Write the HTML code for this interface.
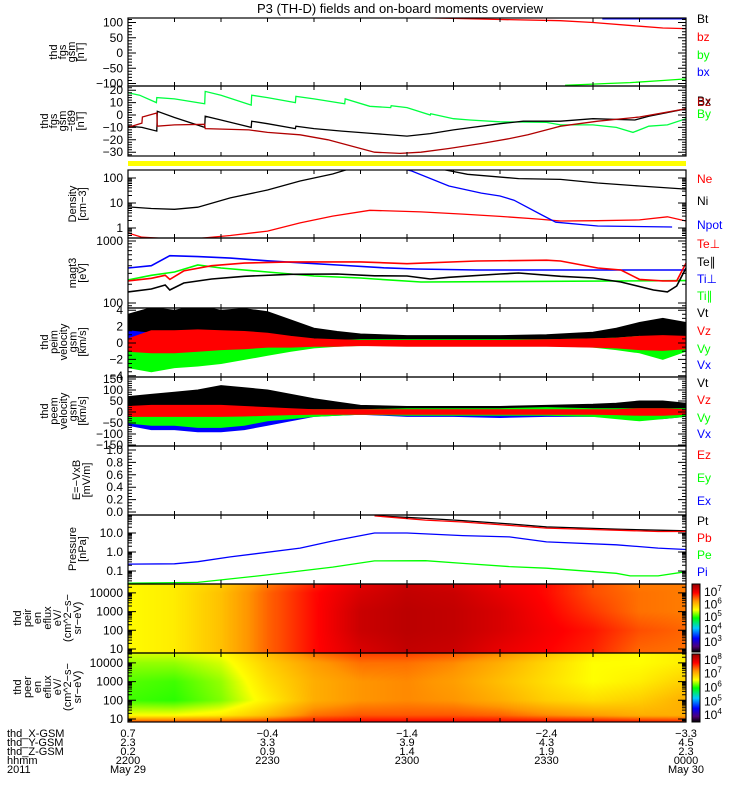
<!DOCTYPE html>
<html><head><meta charset="utf-8">
<style>
html,body{margin:0;padding:0;background:#fff;}
#wrap{position:relative;width:750px;height:800px;overflow:hidden;font-family:"Liberation Sans",sans-serif;}
canvas{position:absolute;}
svg{position:absolute;left:0;top:0;}
text{font-family:"Liberation Sans",sans-serif;}
</style></head>
<body>
<div id="wrap">
<canvas id="ionSpec" width="558" height="69" style="left:128px;top:584px"></canvas>
<canvas id="eleSpec" width="558" height="69" style="left:128px;top:653px"></canvas>
<svg id="chart" width="750" height="800">
<defs>
<clipPath id="c1"><rect x="128" y="18" width="558" height="68"/></clipPath>
<clipPath id="c2"><rect x="128" y="86" width="558" height="70"/></clipPath>
<clipPath id="c3"><rect x="128" y="170" width="558" height="68"/></clipPath>
<clipPath id="c4"><rect x="128" y="238" width="558" height="70"/></clipPath>
<clipPath id="c5"><rect x="128" y="308" width="558" height="69"/></clipPath>
<clipPath id="c6"><rect x="128" y="377" width="558" height="69"/></clipPath>
<clipPath id="c8"><rect x="128" y="515" width="558" height="69"/></clipPath>
<linearGradient id="cbar" x1="0" y1="1" x2="0" y2="0">
<stop offset="0" stop-color="#000"/><stop offset="0.08" stop-color="#500078"/><stop offset="0.2" stop-color="#0000ff"/><stop offset="0.35" stop-color="#00c8ff"/><stop offset="0.5" stop-color="#00ff00"/><stop offset="0.62" stop-color="#ffff00"/><stop offset="0.75" stop-color="#ff9600"/><stop offset="0.87" stop-color="#ff0000"/><stop offset="1" stop-color="#960000"/>
</linearGradient>
</defs>
<text x="400" y="13" text-anchor="middle" font-size="13">P3 (TH-D) fields and on-board moments overview</text>
<rect x="128" y="161" width="558" height="5" fill="#ffff00"/>
</svg>
</div>
<script>
// ---------- DATA (t = minutes after 22:00 UT) ----------
const p1bzT=[65,80,93,100,110,115,120];
const p1bzV=[115,110,106,100,88,82,80];
const p1byT=[94,100,103,108,115,120];
const p1byV=[-106,-102,-100,-97,-90,-85];
const p1bxT=[102,120];
const p1bxV=[112,112];
const p2byT=[0,2.5,6.1,6.2,10,16.5,16.6,20,26.5,26.6,30,36,36.1,40,46.6,46.7,52,56.5,56.6,60,65,65.1,70,73.5,80,90,93,100,105,108.6,112,116,120];
const p2byV=[18,16,10,14,13,9,19,16,8,16,14,10,15,13,9,13,7,6,7.5,6,0,1,-3,-4,-5.5,-6,-8,-8,-10,-14,-9,-8,-3];
const p2bxT=[0,3,6.2,6.3,10,16.5,16.6,20,26.5,26.6,30,36,36.1,40,46,53,60,65,70,80,85,93,100,109,112,120];
const p2bxV=[-9,-10,-13,3,-2,-10,-1,-4,-10,-5,-7,-11,-9,-11,-13,-15,-17,-15,-12,-7,-5,-5,-3,-4,-1,5];
const p2bzT=[0,3,3.1,6.2,6.3,10,16.5,16.6,26,30,37,43,53,58.5,63,69,76,82,86,93,101,110,120];
const p2bzV=[-10,-6.5,-1.6,1.6,-9,-8,-7.5,-11,-12,-14,-16,-20,-30,-31,-30,-27,-23,-19,-16,-9,-5,-1.6,5];
const p3niT=[0,5,10,15,22,30,37,44,47,60,68,73,84,93,101,110,120];
const p3niV=[7,6,5.6,6.8,16,33,76,145,215,260,215,140,95,88,63,48,36];
const p3neT=[0,3,8,15,22,30,37,44,52,63,72,80,88,93,101,110,116,120];
const p3neV=[0.63,0.43,0.38,0.38,0.5,0.75,1.6,3.0,5.1,4.4,3.6,2.9,2.3,1.9,1.95,2.1,2.8,1.9];
const p3npT=[58,61,69,76,80,83,89,92,101,117];
const p3npV=[260,190,48,25,19,13,3.3,1.7,1.2,1.1];
const p4tipT=[0,5,9,15,22,30,38,45,55,62,75,120];
const p4tipV=[367,400,580,560,530,480,440,410,370,354,341,341];
const p4tepT=[0,5,8,9,12,18,25,35,50,60,75,90,93,101,106,110,115,118,120];
const p4tepV=[227,250,280,240,330,400,440,460,460,430,475,490,475,367,341,240,227,227,440];
const p4tilT=[0,5,10,15,20,30,40,50,53,63,120];
const p4tilV=[235,280,316,410,367,316,273,253,244,218,230];
const p4telT=[0,5,8,9,12,18,25,35,45,53,60,65,69,80,84,93,100,106,113,116,118,120];
const p4telV=[151,168,195,162,210,244,270,290,294,275,273,244,260,294,305,270,253,218,162,151,188,367];
const vT=[0,5,10,15,20,25,30,35,40,45,50,60,70,80,90,100,105,110,115,120];
const p5vtMax=[3.5,4.3,4.0,4.5,4.0,4.2,3.8,2.8,1.8,1.4,1.1,0.9,0.9,0.9,1.0,1.3,1.8,2.5,3.0,2.5];
const p5vtMin=[1.5,1.3,1.2,1.1,1.0,0.8,0.6,0.5,0.4,0.3,0.2,0.2,0.2,0.2,0.2,0.2,0.2,0.2,0.2,0.2];
const p5vzMax=[0.5,1.5,1.5,1.6,1.5,1.4,1.2,0.8,0.5,0.4,0.3,0.3,0.3,0.3,0.4,0.5,0.6,0.8,0.9,0.8];
const p5vzMin=[-1.0,-1.2,-1.2,-1.0,-0.8,-0.7,-0.5,-0.5,-0.4,-0.4,-0.3,-0.4,-0.4,-0.4,-0.4,-0.5,-0.6,-0.8,-0.9,-0.7];
const p5vyMax=[-0.5,-0.2,0,0,0,0.1,0.2,0.3,0.3,0.3,0.4,0.4,0.4,0.4,0.4,0.5,0.6,0.8,0.5,0.3];
const p5vyMin=[-3.0,-3.5,-3.0,-2.8,-2.5,-2.0,-1.5,-1.0,-0.6,-0.4,-0.3,-0.2,-0.2,-0.2,-0.3,-0.5,-0.8,-1.2,-2.0,-1.0];
const p5vxMax=[1.5,1.2,1.0,0.8,0.5,0.4,0.2,0.2,0.2,0.2,0.2,0.2,0.2,0.2,0.2,0.2,0.2,0.3,0.3,0.2];
const p5vxMin=[-0.5,-0.8,-1.0,-1.0,-1.0,-0.8,-0.5,-0.4,-0.3,-0.3,-0.3,-0.3,-0.3,-0.3,-0.3,-0.4,-0.5,-0.6,-0.6,-0.4];
const p6vtMax=[70,80,90,100,120,110,100,80,60,45,30,25,25,25,30,35,40,50,50,40];
const p6vtMin=[15,15,12,10,10,8,8,6,5,5,5,5,5,5,5,5,5,5,5,5];
const p6vzMax=[25,30,30,30,30,25,20,15,10,10,10,10,10,10,10,10,10,15,15,10];
const p6vzMin=[-20,-20,-20,-20,-20,-18,-15,-12,-10,-10,-10,-10,-10,-10,-10,-10,-12,-15,-15,-10];
const p6vyMax=[10,10,10,10,10,10,10,10,10,10,10,15,15,15,20,15,15,15,15,15];
const p6vyMin=[-50,-60,-60,-70,-70,-60,-40,-30,-20,-15,-10,-15,-15,-15,-15,-20,-30,-40,-30,-20];
const p6vxMax=[5,5,5,5,5,5,5,5,5,5,5,5,5,5,5,5,5,5,5,5];
const p6vxMin=[-60,-80,-80,-90,-90,-80,-60,-40,-20,-15,-10,-20,-20,-25,-20,-20,-25,-30,-30,-20];
const p8piT=[0,10,15,22,37,44,53,60,64,72,82,90,105,114,120];
const p8piV=[0.23,0.24,0.31,0.55,1.6,3.8,10,10,9,7.3,6.2,3.4,2.4,1.6,1.35];
const p8peT=[0,15,30,44,53,64,72,82,90,105,108,114,120];
const p8peV=[0.023,0.025,0.062,0.16,0.34,0.35,0.25,0.17,0.14,0.076,0.055,0.055,0.092];
const p8ptT=[53,64,72,82,90,105,114,120];
const p8ptV=[81,59,45,30,21,16,14,13];
const p8pbV=[79,48,38,25,18,14,12,12];
const specT=[0,10,20,30,40,50,60,70,80,90,100,110,120];
const ionLogE=[1,2,3,4,4.5];
const ionFlux=[
[5.6,5.7,6.0,6.5,6.9,7.2,7.35,7.3,7.1,6.95,6.8,6.5,6.45],
[5.6,5.7,6.0,6.5,6.9,7.3,7.4,7.35,7.2,7.0,6.85,6.6,6.5],
[5.6,5.7,6.0,6.5,6.9,7.3,7.4,7.35,7.2,6.95,6.7,6.45,6.4],
[5.6,5.7,6.0,6.5,6.9,7.2,7.35,7.3,7.1,6.9,6.6,6.45,6.4],
[5.6,5.7,5.9,6.4,6.8,7.1,7.3,7.2,7.0,6.9,6.6,6.4,6.4]];
const eleLogE=[0.8,1.2,2,3,4,4.5];
const eleFlux=[
[7.7,7.7,7.7,7.75,7.85,7.9,7.9,7.9,7.9,7.9,7.9,7.85,7.8],
[6.6,6.6,6.7,7.0,7.4,7.5,7.5,7.5,7.45,7.3,7.2,7.1,7.1],
[6.15,6.1,6.3,6.7,7.1,7.25,7.3,7.25,7.1,6.9,6.8,6.9,7.1],
[6.2,6.15,6.35,6.8,7.1,7.25,7.3,7.2,7.0,6.8,6.6,6.7,6.9],
[6.35,6.35,6.5,6.9,7.2,7.4,7.4,7.3,7.1,6.85,6.6,6.6,6.7],
[6.5,6.5,6.6,7.0,7.4,7.6,7.6,7.5,7.3,7.0,6.7,6.6,6.7]];
const tickMin=[0,30,60,90,120];
const xGsm=["0.7","\u22120.4","\u22121.4","\u22122.4","\u22123.3"];
const yGsm=["2.3","3.3","3.9","4.3","4.5"];
const zGsm=["0.2","0.9","1.4","1.9","2.3"];
const hhmm=["2200","2230","2300","2330","0000"];

// ---------- RENDERING ----------
const NS="http://www.w3.org/2000/svg";
const svg=document.getElementById('chart');
const X=t=>128+t*4.65;
const L10=Math.log10;
function add(tag,attrs,name,parent){
  const el=document.createElementNS(NS,tag);
  for(const k in attrs) el.setAttribute(k,attrs[k]);
  
  
  (parent||svg).appendChild(el);
  return el;
}
function txt(x,y,s,size,anchor,fill,name){
  const el=add('text',{x:x,y:y,'font-size':size,'text-anchor':anchor||'start',fill:fill||'#000'},name);
  el.textContent=s; return el;
}
const Y1=v=>53-v*0.305;
const Y2=v=>115-v*1.24;
const Y3=v=>228-L10(v)*25;
const Y4=v=>241+(3-L10(v))*62;
const Y5=v=>343-v*8.2;
const Y6=v=>412-v*0.22;
const Y7=v=>512-v*62;
const Y8=v=>552-L10(v)*19;
const Y9=le=>649-(le-1)*18.7;
const Y10=le=>719-(le-1)*18.7;

function line(ts,vs,ys,color,clip,name,w){
  const pts=ts.map((t,i)=>X(t).toFixed(1)+','+ys(vs[i]).toFixed(1)).join(' ');
  add('polyline',{points:pts,fill:'none',stroke:color,'stroke-width':w||1.3,'clip-path':'url(#'+clip+')'},name);
}
function band(ts,mx,mn,ys,color,clip,name){
  const a=ts.map((t,i)=>X(t).toFixed(1)+','+ys(mx[i]).toFixed(1));
  const b=ts.map((t,i)=>X(t).toFixed(1)+','+ys(mn[i]).toFixed(1)).reverse();
  add('polygon',{points:a.concat(b).join(' '),fill:color,stroke:color,'stroke-width':1,'clip-path':'url(#'+clip+')'},name);
}
const panels=[
 {id:1,top:18,bot:86,ys:Y1,major:[100,50,0,-50,-100],lab:["100","50","0","\u221250","\u2212100"],minor:{lin:10,lo:-100,hi:110}},
 {id:2,top:86,bot:156,ys:Y2,major:[20,10,0,-10,-20,-30],lab:["20","10","0","\u221210","\u221220","\u221230"],minor:{lin:2,lo:-32,hi:22}},
 {id:3,top:170,bot:238,ys:Y3,major:[100,10,1],lab:["100","10","1"],minor:{log:[-1,2]}},
 {id:4,top:238,bot:308,ys:Y4,major:[1000,100],lab:["1000","100"],minor:{log:[1,3]}},
 {id:5,top:308,bot:377,ys:Y5,major:[4,2,0,-2,-4],lab:["4","2","0","\u22122","\u22124"],minor:{lin:0.5,lo:-4,hi:4}},
 {id:6,top:377,bot:446,ys:Y6,major:[150,100,50,0,-50,-100,-150],lab:["150","100","50","0","\u221250","\u2212100","\u2212150"],minor:{lin:10,lo:-150,hi:150}},
 {id:7,top:446,bot:515,ys:Y7,major:[1,0.8,0.6,0.4,0.2,0],lab:["1.0","0.8","0.6","0.4","0.2","0.0"],minor:{lin:0.05,lo:0,hi:1}},
 {id:8,top:515,bot:584,ys:Y8,major:[10,1,0.1],lab:["10.0","1.0","0.1"],minor:{log:[-2,1]}},
 {id:9,top:584,bot:653,ys:v=>Y9(L10(v)),major:[10000,1000,100,10],lab:["10000","1000","100","10"],minor:{log:[0,4]}},
 {id:10,top:653,bot:722,ys:v=>Y10(L10(v)),major:[10000,1000,100,10],lab:["10000","1000","100","10"],minor:{log:[0,4]}}
];
function drawSpec(id,logE,flux,fmin,fmax){
  const cv=document.getElementById(id),ctx=cv.getContext('2d');
  const img=ctx.createImageData(558,69);
  const stops=[[0,0,0,0],[0.08,80,0,120],[0.2,0,0,255],[0.35,0,200,255],[0.5,0,255,0],[0.62,255,255,0],[0.75,255,150,0],[0.87,255,0,0],[1,150,0,0]];
  const yfun=id==='ionSpec'?Y9:Y10, top=id==='ionSpec'?584:653;
  function interp(arr,v){ if(v<=arr[0]) return [0,0]; for(let i=0;i<arr.length-1;i++){ if(v<=arr[i+1]) return [i,(v-arr[i])/(arr[i+1]-arr[i])]; } return [arr.length-2,1]; }
  for(let py=0;py<69;py++){
    const le=1+(yfun(1)-(top+py+0.5))/18.7;
    const [ei,ef]=interp(logE,le);
    for(let px=0;px<558;px++){
      const t=(px+0.5)/4.65;
      const [ti,tf]=interp(specT,t);
      const a=flux[ei][ti]*(1-tf)+flux[ei][ti+1]*tf;
      const b=flux[ei+1][ti]*(1-tf)+flux[ei+1][ti+1]*tf;
      const f=Math.max(0,Math.min(1,((a*(1-ef)+b*ef)-fmin)/(fmax-fmin)));
      let k=0; while(k<stops.length-2 && f>stops[k+1][0]) k++;
      const s0=stops[k],s1=stops[k+1],u=(f-s0[0])/(s1[0]-s0[0]);
      const o=(py*558+px)*4;
      img.data[o]=s0[1]+(s1[1]-s0[1])*u; img.data[o+1]=s0[2]+(s1[2]-s0[2])*u; img.data[o+2]=s0[3]+(s1[3]-s0[3])*u; img.data[o+3]=255;
    }
  }
  ctx.putImageData(img,0,0);
}
drawSpec('ionSpec',ionLogE,ionFlux,2.2,7.65);
drawSpec('eleSpec',eleLogE,eleFlux,3.5,8.5);

line(p1bzT,p1bzV,Y1,'#ff0000','c1','p1-bz-line');
line(p1byT,p1byV,Y1,'#00ff00','c1','p1-by-line');
line(p1bxT,p1bxV,Y1,'#0000ff','c1','p1-bx-line');
line(p2byT,p2byV,Y2,'#00ff40','c2','p2-by-line');
line(p2bxT,p2bxV,Y2,'#000000','c2','p2-bx-line');
line(p2bzT,p2bzV,Y2,'#b00000','c2','p2-bz-line');
line(p3niT,p3niV,Y3,'#000000','c3','density-ni-line');
line(p3neT,p3neV,Y3,'#ff0000','c3','density-ne-line');
line(p3npT,p3npV,Y3,'#0000ff','c3','density-npot-line');
line(p4tipT,p4tipV,Y4,'#0000ff','c4','ti-perp-line',1.6);
line(p4tilT,p4tilV,Y4,'#00ff00','c4','ti-par-line',1.6);
line(p4tepT,p4tepV,Y4,'#ff0000','c4','te-perp-line',1.6);
line(p4telT,p4telV,Y4,'#000000','c4','te-par-line',1.6);
band(vT,p5vtMax,p5vtMin,Y5,'#000000','c5','peim-vt-band');
band(vT,p5vxMax,p5vxMin,Y5,'#0000ff','c5','peim-vx-band');
band(vT,p5vyMax,p5vyMin,Y5,'#00ff00','c5','peim-vy-band');
band(vT,p5vzMax,p5vzMin,Y5,'#ff0000','c5','peim-vz-band');
band(vT,p6vtMax,p6vtMin,Y6,'#000000','c6','peem-vt-band');
band(vT,p6vxMax,p6vxMin,Y6,'#0000ff','c6','peem-vx-band');
band(vT,p6vyMax,p6vyMin,Y6,'#00ff00','c6','peem-vy-band');
band(vT,p6vzMax,p6vzMin,Y6,'#ff0000','c6','peem-vz-band');
line(p8ptT,p8ptV,Y8,'#000000','c8','pressure-pt-line');
line(p8ptT,p8pbV,Y8,'#ff0000','c8','pressure-pb-line');
line(p8piT,p8piV,Y8,'#0000ff','c8','pressure-pi-line');
line(p8peT,p8peV,Y8,'#00ff00','c8','pressure-pe-line');

panels.forEach(p=>{
  add('rect',{x:128,y:p.top,width:558,height:p.bot-p.top,fill:'none',stroke:'#000','stroke-width':1.2},'panel-'+p.id+'-frame');
  let d='';
  for(let t=10;t<120;t+=10){ d+='M'+X(t)+' '+p.top+'v4M'+X(t)+' '+p.bot+'v-4'; }
  const mins=[];
  if(p.minor.lin){ for(let v=p.minor.lo;v<=p.minor.hi+1e-9;v+=p.minor.lin) mins.push(v); }
  else { for(let e=p.minor.log[0];e<=p.minor.log[1];e++) for(let m=1;m<10;m++) mins.push(m*Math.pow(10,e)); }
  mins.forEach(v=>{ const y=p.ys(v); if(y>p.top+0.5&&y<p.bot-0.5) d+='M128 '+y.toFixed(1)+'h4M686 '+y.toFixed(1)+'h-4'; });
  p.major.forEach((v,i)=>{ const y=p.ys(v); if(y>p.top-1&&y<p.bot+1){ d+='M128 '+y.toFixed(1)+'h8M686 '+y.toFixed(1)+'h-8'; }
    txt(123,y+4,p.lab[i],12,'end','#000','panel-'+p.id+'-ytick-label'); });
  add('path',{d:d,stroke:'#000','stroke-width':1,fill:'none'},'panel-'+p.id+'-ticks');
});

const titles=[
 [52,["thd","fgs","gsm","[nT]"],84,9],[121,["thd","fgs","gsm","\u2212t89","[nT]"],84,9],[204,["Density","[cm\u22123]"],86,10],
 [273,["magt3","[eV]"],86,10],[342,["thd","peim","velocity","gsm","[km/s]"],86,9.5],[411,["thd","peem","velocity","gsm","[km/s]"],86,9.5],
 [480,["E=\u2212VxB","[mV/m]"],90,10],[549,["Pressure","[nPa]"],86,10],[618,["thd","peir","en","eflux","eV/","(cm^2\u2212s\u2212","sr\u2212eV)"],81,10],
 [687,["thd","peer","en","eflux","eV/","(cm^2\u2212s\u2212","sr\u2212eV)"],81,10]];
titles.forEach((tt,k)=>{
  const n=tt[1].length, lh=tt[3], right=tt[2];
  tt[1].forEach((s,i)=>{
    const x=right-(n-1-i)*lh;
    const el=txt(0,0,s,11,'middle','#000','y-axis-title-'+(k+1));
    el.setAttribute('transform','translate('+x+','+tt[0]+') rotate(-90)');
  });
});

const legends=[
 [["Bt",23,'#000'],["bz",41,'#f00'],["by",59,'#0f0'],["bx",76,'#00f']],
 [["Bx",105,'#000'],["Bz",106,'#b00000'],["By",118,'#0f0']],
 [["Ne",183,'#f00'],["Ni",205,'#000'],["Npot",229,'#00f']],
 [["Te\u22a5",248,'#f00'],["Te\u2225",266,'#000'],["Ti\u22a5",283,'#00f'],["Ti\u2225",300,'#0f0']],
 [["Vt",317,'#000'],["Vz",335,'#f00'],["Vy",353,'#0f0'],["Vx",369,'#00f']],
 [["Vt",387,'#000'],["Vz",404,'#f00'],["Vy",422,'#0f0'],["Vx",438,'#00f']],
 [["Ez",459,'#f00'],["Ey",482,'#0f0'],["Ex",505,'#00f']],
 [["Pt",525,'#000'],["Pb",542,'#f00'],["Pe",559,'#0f0'],["Pi",576,'#00f']]];
legends.forEach((g,k)=>g.forEach(e=>txt(697,e[1],e[0],12,'start',e[2],'legend-panel'+(k+1)+'-'+e[0].toLowerCase())));

add('rect',{x:692,y:584,width:8,height:68,fill:'url(#cbar)',stroke:'#000','stroke-width':1},'ion-colorbar');
add('rect',{x:692,y:654,width:8,height:68,fill:'url(#cbar)',stroke:'#000','stroke-width':1},'electron-colorbar');
const ionCbExp=[7,6,5,4,3];
const eleCbExp=[8,7,6,5,4];
function cbLabel(y,e,name){
  const el=txt(704,y+4,'10',12,'start','#000',name);
  const s=document.createElementNS(NS,'tspan'); s.setAttribute('dy','-5'); s.setAttribute('font-size','8'); s.textContent=String(e); el.appendChild(s);
}
ionCbExp.forEach(e=>cbLabel(652-(e-2.2)*12.5,e,'ion-colorbar-label'));
eleCbExp.forEach(e=>cbLabel(722-(e-3.5)*13.8,e,'electron-colorbar-label'));

const rowY=[737,746,755,764,773];
["thd_X-GSM","thd_Y-GSM","thd_Z-GSM","hhmm","2011"].forEach((s,i)=>txt(7,rowY[i],s,11,'start','#000','bottom-row-title'));
tickMin.forEach((t,i)=>{
  txt(X(t),rowY[0],xGsm[i],11,'middle','#000','x-gsm-label');
  txt(X(t),rowY[1],yGsm[i],11,'middle','#000','y-gsm-label');
  txt(X(t),rowY[2],zGsm[i],11,'middle','#000','z-gsm-label');
  txt(X(t),rowY[3],hhmm[i],11,'middle','#000','time-label');
});
txt(X(0),rowY[4],"May 29",11,'middle','#000','date-label-start');
txt(X(120),rowY[4],"May 30",11,'middle','#000','date-label-end');
</script>
</body></html>
